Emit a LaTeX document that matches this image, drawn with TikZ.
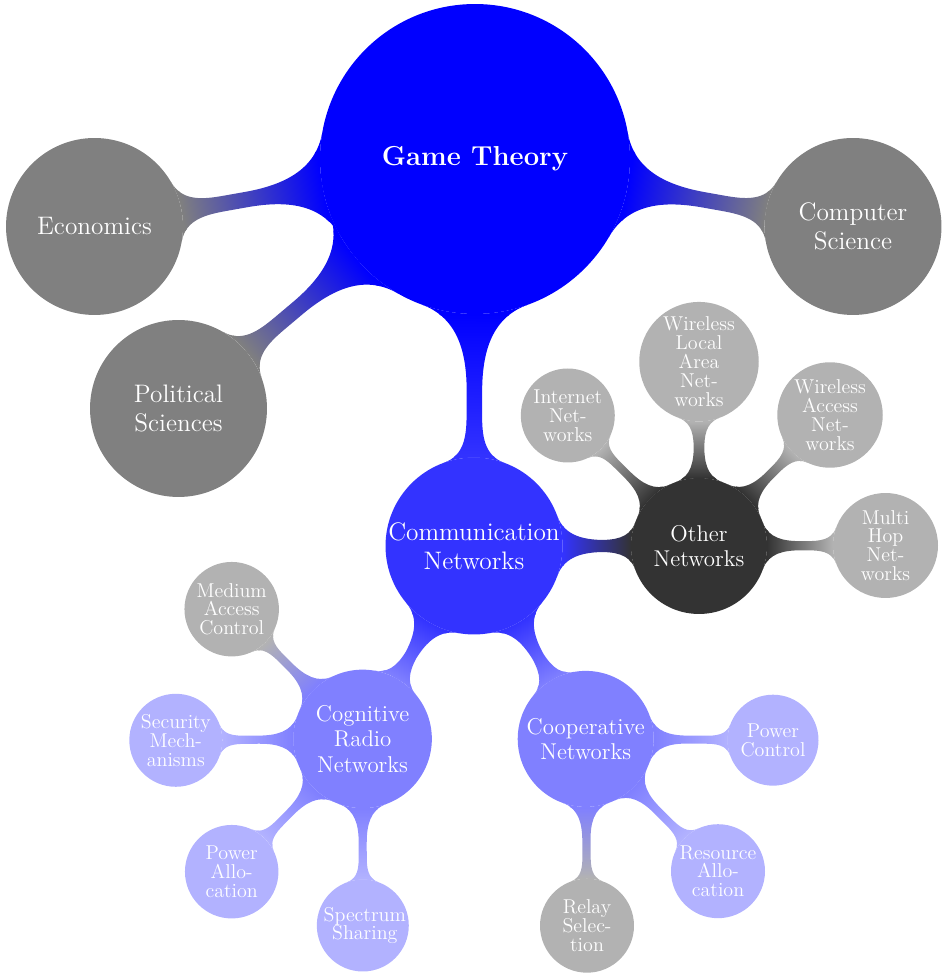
\documentclass[tikz,border=0pt]{standalone}
\usetikzlibrary{mindmap,backgrounds}
\begin{document}
\begin{tikzpicture}[x=0.02cm,y=0.02cm,
  bub/.style={circle,draw=none,inner sep=0pt,outer sep=0pt,fill=#1},
  s0/.style={minimum size=6.2cm},
  s1/.style={minimum size=3.54cm},
  s2/.style={minimum size=2.72cm},
  s3/.style={minimum size=#1},
  t0/.style={text=white,align=center,font=\fontsize{15.6}{18}\selectfont\bfseries},
  t1/.style={text=white,align=center,font=\fontsize{14.4}{16.5}\selectfont},
  t2/.style={text=white,align=center,font=\fontsize{13}{14.5}\selectfont},
  t3/.style={text=white,align=center,font=\fontsize{11.4}{10.7}\selectfont},
  bar0/.style={line width=8.5pt},
  bar1/.style={line width=7.8pt},
  bar2/.style={line width=5.4pt}
]
\useasboundingbox (0,0) rectangle (941,973);
% circles
\node[bub=blue,s0] (root) at (475,814) {};
\node[bub=black!50,s1] (econ) at (94.5,746.5) {};
\node[bub=black!50,s1] (pol) at (178.5,564.5) {};
\node[bub=black!50,s1] (cs) at (853,746.5) {};
\node[bub=blue!80,s1] (cn) at (474,427) {};
\node[bub=black!80,s2] (other) at (699,427) {};
\node[bub=blue!50,s2] (coop) at (585.7,234.1) {};
\node[bub=blue!50,minimum size=2.77cm] (cog) at (362.6,234.1) {};
\node[bub=black!30,s3=1.88cm] (inet) at (567.8,557.5) {};
\node[bub=black!30,s3=2.39cm] (wlan) at (699,611.3) {};
\node[bub=black!30,s3=2.11cm] (wan) at (830,558) {};
\node[bub=black!30,s3=2.10cm] (mhop) at (885.5,427.5) {};
\node[bub=black!30,s3=1.89cm] (mac) at (231.7,363.8) {};
\node[bub=blue!30,s3=1.86cm] (sec) at (175.8,232.7) {};
\node[bub=blue!30,s3=1.87cm] (palloc) at (231.7,101.3) {};
\node[bub=blue!30,s3=1.84cm] (spec) at (362.8,47.5) {};
\node[bub=blue!30,s3=1.82cm] (pctrl) at (773,232.8) {};
\node[bub=blue!30,s3=1.88cm] (res) at (718,101.8) {};
\node[bub=black!30,s3=1.88cm] (relay) at (587,47.3) {};
% connections
\begin{pgfonlayer}{background}
\path[bar0] (root) to[circle connection bar switch color=from (blue) to (black!50)] (econ);
\path[bar0] (root) to[circle connection bar switch color=from (blue) to (black!50)] (pol);
\path[bar0] (root) to[circle connection bar switch color=from (blue) to (black!50)] (cs);
\path[bar0] (root) to[circle connection bar switch color=from (blue) to (blue!80)] (cn);
\path[bar1] (cn) to[circle connection bar switch color=from (blue!80) to (black!80)] (other);
\path[bar1] (cn) to[circle connection bar switch color=from (blue!80) to (blue!50)] (coop);
\path[bar1] (cn) to[circle connection bar switch color=from (blue!80) to (blue!50)] (cog);
\path[bar2] (other) to[circle connection bar switch color=from (black!80) to (black!30)] (inet);
\path[bar2] (other) to[circle connection bar switch color=from (black!80) to (black!30)] (wlan);
\path[bar2] (other) to[circle connection bar switch color=from (black!80) to (black!30)] (wan);
\path[bar2] (other) to[circle connection bar switch color=from (black!80) to (black!30)] (mhop);
\path[bar2] (cog) to[circle connection bar switch color=from (blue!50) to (black!30)] (mac);
\path[bar2] (cog) to[circle connection bar switch color=from (blue!50) to (blue!30)] (sec);
\path[bar2] (cog) to[circle connection bar switch color=from (blue!50) to (blue!30)] (palloc);
\path[bar2] (cog) to[circle connection bar switch color=from (blue!50) to (blue!30)] (spec);
\path[bar2] (coop) to[circle connection bar switch color=from (blue!50) to (blue!30)] (pctrl);
\path[bar2] (coop) to[circle connection bar switch color=from (blue!50) to (blue!30)] (res);
\path[bar2] (coop) to[circle connection bar switch color=from (blue!50) to (black!30)] (relay);
\end{pgfonlayer}
% texts
\node[t0] (troot) at (root) {Game Theory};
\node[t1] (tecon) at (econ) {Economics};
\node[t1] (tpol) at (pol) {Political\\Sciences};
\node[t1] (tcs) at (cs) {Computer\\Science};
\node[t1] (tcn) at (cn) {Communication\\Networks};
\node[t2] (tother) at (other) {Other\\Networks};
\node[t2] (tcoop) at (coop) {Cooperative\\Networks};
\node[t2] (tcog) at (cog) {Cognitive\\Radio\\Networks};
\node[t3] (tinet) at (inet) {Internet\\Net-\\works};
\node[t3] (twlan) at (wlan) {Wireless\\Local\\Area\\Net-\\works};
\node[t3] (twan) at (wan) {Wireless\\Access\\Net-\\works};
\node[t3] (tmhop) at (mhop) {Multi\\Hop\\Net-\\works};
\node[t3] (tmac) at (mac) {Medium\\Access\\Control};
\node[t3] (tsec) at (sec) {Security\\Mech-\\anisms};
\node[t3] (tpalloc) at (palloc) {Power\\Allo-\\cation};
\node[t3,xshift=0.04cm] (tspec) at (spec) {Spectrum\\Sharing};
\node[t3] (tpctrl) at (pctrl) {Power\\Control};
\node[t3] (tres) at (res) {Resource\\Allo-\\cation};
\node[t3] (trelay) at (relay) {Relay\\Selec-\\tion};
\end{tikzpicture}
\end{document}
